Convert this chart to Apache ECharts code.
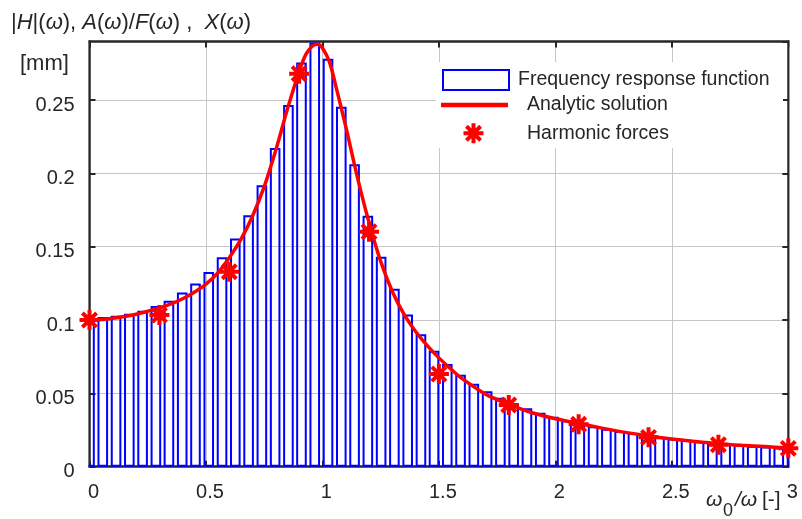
<!DOCTYPE html>
<html><head><meta charset="utf-8">
<script src="https://cdn.jsdelivr.net/npm/echarts@6/dist/echarts.min.js"></script>
<style>html,body{margin:0;padding:0;background:#fff}#c{width:802px;height:519px}</style>
</head><body><div id="c"></div>
<script>
// Discrete frequency response (bars)
const barFreq = [0.000,0.057,0.114,0.171,0.228,0.285,0.341,0.398,0.455,0.512,0.569,0.626,0.683,0.740,0.797,0.854,0.910,0.967,1.024,1.081,1.138,1.195,1.252,1.309,1.366,1.423,1.479,1.536,1.593,1.650,1.707,1.764,1.821,1.878,1.935,1.992,2.048,2.105,2.162,2.219,2.276,2.333,2.390,2.447,2.504,2.561,2.617,2.674,2.731,2.788,2.845,2.902,2.959,3.016];
const barAmp = [0.100,0.102,0.103,0.1043,0.1064,0.1096,0.1132,0.1187,0.125,0.1327,0.1428,0.1556,0.1715,0.1919,0.2173,0.2466,0.2756,0.2892,0.2782,0.2455,0.2062,0.1711,0.1432,0.1214,0.1038,0.0903,0.0791,0.0700,0.0627,0.0566,0.0514,0.0470,0.0432,0.0398,0.0368,0.0340,0.0316,0.0295,0.0276,0.0259,0.0243,0.0229,0.0216,0.0204,0.0193,0.0183,0.0174,0.0165,0.0157,0.0150,0.0143,0.0137,0.0131,0.0125];
// Analytic solution (curve)
const curveX = [0.00,0.05,0.10,0.15,0.20,0.25,0.30,0.35,0.40,0.45,0.50,0.55,0.60,0.65,0.70,0.75,0.80,0.85,0.90,0.93,0.96,0.98,1.00,1.03,1.06,1.10,1.15,1.20,1.25,1.30,1.35,1.40,1.45,1.50,1.55,1.60,1.70,1.80,1.90,2.00,2.10,2.20,2.30,2.40,2.50,2.60,2.70,2.80,2.90,3.00];
const curveY = [0.1000,0.1003,0.1012,0.1024,0.1040,0.1060,0.1082,0.1110,0.1145,0.1190,0.1245,0.1320,0.1425,0.1550,0.1710,0.1910,0.2160,0.2440,0.2695,0.2815,0.2872,0.2880,0.2855,0.2760,0.2580,0.2320,0.1975,0.1665,0.1400,0.1195,0.1040,0.0922,0.0826,0.0742,0.0668,0.0600,0.0495,0.0425,0.0368,0.0327,0.0295,0.0263,0.0234,0.0210,0.0189,0.0172,0.0157,0.0146,0.0137,0.0128];
// Harmonic forces (stars)
const harmX = [0,0.3,0.6,0.9,1.2,1.5,1.8,2.1,2.4,2.7,3.0];
const harmY = [0.100,0.1034,0.133,0.268,0.1602,0.0632,0.0421,0.0289,0.0200,0.0150,0.0125];
const seriesNames = ['Frequency response function','Analytic solution','Harmonic forces'];
const xTickStep = 0.5, xMin = 0, xMax = 3;
const yTickStep = 0.05, yMin = 0, yMax = 0.29;

const FONT = '"Liberation Sans", Arial, sans-serif';
const TXT = '#262626';
const AX = '#262626';
const GRID = '#c6c6c6';
const star = 'path://M0 8H20V12H0Z M8 0H12V20H8Z M4.34 1.52L18.48 15.66L15.66 18.48L1.52 4.34Z M18.48 4.34L4.34 18.48L1.52 15.66L15.66 1.52Z';

const chart = echarts.init(document.getElementById('c'), null, {renderer:'canvas'});
const axisLineStyle = {show:true, onZero:false, lineStyle:{color:AX, width:2.5}};
const tickStyle = {show:true, inside:true, length:6, lineStyle:{color:AX, width:2}};
chart.setOption({
  animation:false,
  backgroundColor:'#fff',
  textStyle:{fontFamily:FONT},
  title:{
    text:'{n||}{i|H}{n||(}{i|ω}{n|), }{i|A}{n|(}{i|ω}{n|)/}{i|F}{n|(}{i|ω}{n|) ,  }{i|X}{n|(}{i|ω}{n|)}',
    left:11, top:12, padding:0,
    textStyle:{fontSize:22, fontWeight:'normal', color:TXT, fontFamily:FONT,
      rich:{n:{fontSize:22, color:TXT, fontFamily:FONT}, i:{fontSize:22, fontStyle:'italic', color:TXT, fontFamily:FONT}}}
  },
  grid:{left:89.5, right:13.7, top:41.4, bottom:52.3, containLabel:false},
  xAxis:[
    {type:'value', min:xMin, max:xMax, interval:xTickStep, position:'bottom',
     axisLine:axisLineStyle, axisTick:tickStyle,
     axisLabel:{fontSize:20, color:TXT, fontFamily:FONT, margin:16, padding:[0,0,0,8]},
     splitLine:{show:true, lineStyle:{color:GRID, width:1}}},
    {type:'value', min:xMin, max:xMax, interval:xTickStep, position:'top',
     axisLine:axisLineStyle, axisTick:tickStyle, axisLabel:{show:false}, splitLine:{show:false}}
  ],
  yAxis:[
    {type:'value', min:yMin, max:yMax, interval:yTickStep, position:'left',
     axisLine:axisLineStyle, axisTick:tickStyle,
     axisLabel:{fontSize:20, color:TXT, fontFamily:FONT, margin:15, showMaxLabel:false, verticalAlign:'top', lineHeight:10},
     splitLine:{show:true, lineStyle:{color:GRID, width:1}}},
    {type:'value', min:yMin, max:yMax, interval:yTickStep, position:'right',
     axisLine:axisLineStyle, axisTick:tickStyle, axisLabel:{show:false}, splitLine:{show:false}}
  ],
  legend:[
    {data:[{name:seriesNames[0], icon:'rect'}], left:442, top:69, padding:0, itemWidth:66, itemHeight:20,
     selectedMode:false,
     itemStyle:{color:'rgba(0,0,0,0)', borderColor:'#0000ff', borderWidth:2},
     textStyle:{fontSize:19.5, color:TXT, fontFamily:FONT, padding:[0,0,0,4]}},
    {data:[{name:seriesNames[1], icon:'rect'}], left:441, top:95, padding:0, itemWidth:67, itemHeight:4.5,
     selectedMode:false, itemStyle:{color:'#ff0000', borderWidth:0},
     textStyle:{fontSize:19.5, color:TXT, fontFamily:FONT, padding:[0,0,0,14]}},
    {data:[seriesNames[2]], left:463.5, top:123.3, padding:0, itemWidth:20, itemHeight:20,
     selectedMode:false,
     textStyle:{fontSize:19.5, color:TXT, fontFamily:FONT, padding:[0,0,0,38.5]}}
  ],
  graphic:[
    {type:'rect', left:436, top:62, shape:{width:347, height:86}, style:{fill:'#ffffff'}, z:3, silent:true},
    {type:'rect', left:80, top:41, shape:{width:8.2, height:427}, style:{fill:'#ffffff'}, z:2.5, silent:true},
    {type:'rect', left:789.6, top:41, shape:{width:12.4, height:427}, style:{fill:'#ffffff'}, z:2.5, silent:true},
    {type:'text', left:20, top:52.5, style:{text:'[mm]', font:'22px "Liberation Sans"', fill:TXT}},
    {type:'text', left:706, top:490, style:{text:'ω', font:'italic 21px "Liberation Sans"', fill:TXT}},
    {type:'text', left:723, top:502.5, style:{text:'0', font:'18px "Liberation Sans"', fill:TXT}},
    {type:'text', left:735, top:490, style:{text:'/ω', font:'italic 21px "Liberation Sans"', fill:TXT}},
    {type:'text', left:762, top:490, style:{text:'[-]', font:'21px "Liberation Sans"', fill:TXT}}
  ],
  series:[
    {name:seriesNames[0], type:'bar', xAxisIndex:0, yAxisIndex:0, clip:true,
     data:barFreq.map((x,i)=>[x, barAmp[i]]), barWidth:10.6,
     itemStyle:{color:'rgba(0,0,0,0)', borderColor:'#0000ff', borderWidth:2}, z:2},
    {name:seriesNames[1], type:'line', xAxisIndex:0, yAxisIndex:0, clip:false,
     data:curveX.map((x,i)=>[x, curveY[i]]), smooth:0.3, symbol:'none',
     lineStyle:{color:'#ff0000', width:3.5}, itemStyle:{color:'#ff0000'}, z:3},
    {name:seriesNames[2], type:'scatter', xAxisIndex:0, yAxisIndex:0, clip:false,
     data:harmX.map((x,i)=>[x, harmY[i]]), symbol:star, symbolSize:20,
     itemStyle:{color:'#ff0000', opacity:1}, z:4}
  ]
});
</script>
</body></html>
